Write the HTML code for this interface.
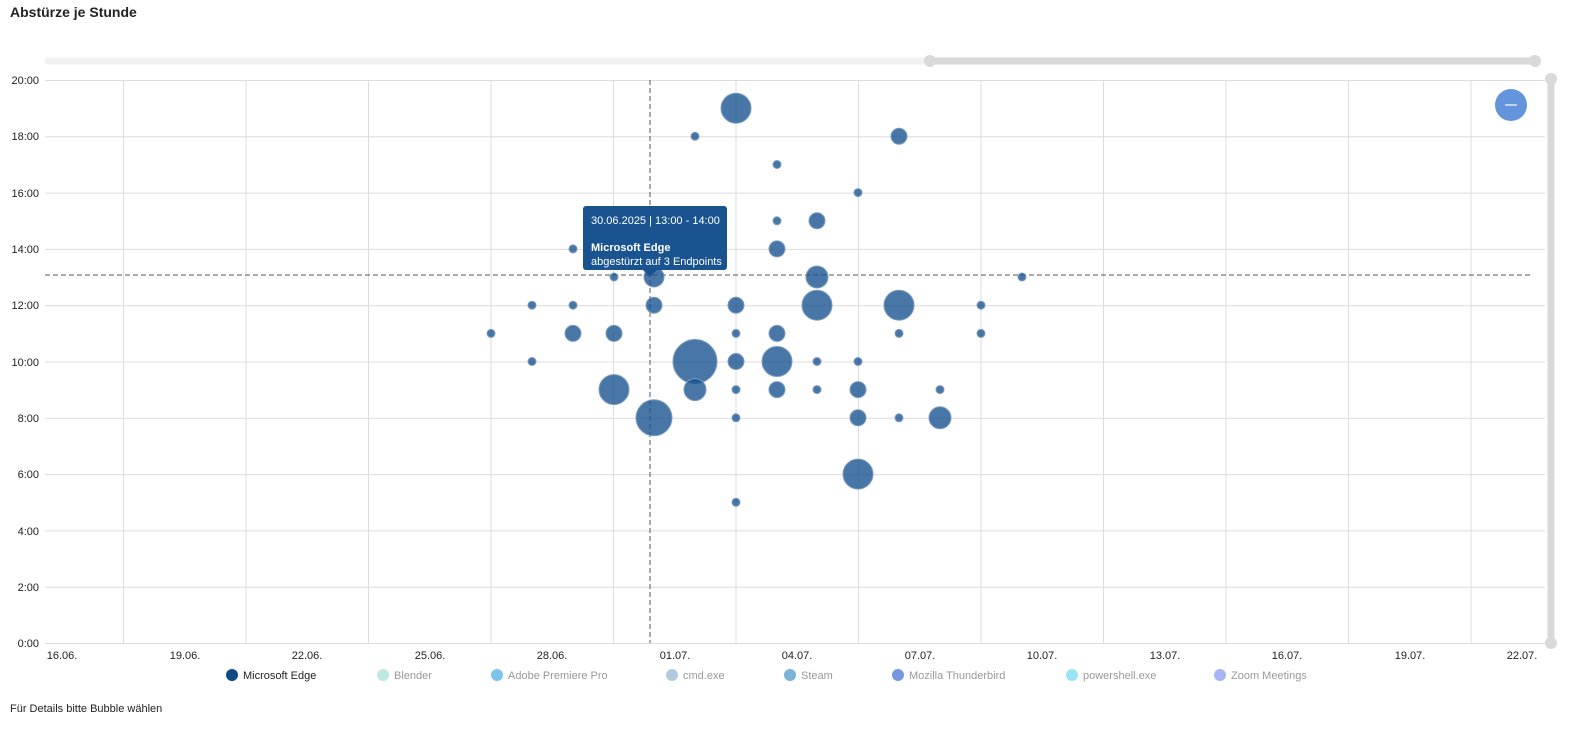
<!DOCTYPE html>
<html><head><meta charset="utf-8"><style>
html,body{margin:0;padding:0;background:#fff;overflow:hidden;width:1584px;height:730px;font-family:"Liberation Sans",sans-serif;}
svg{display:block;}
</style></head><body>
<svg width="1584" height="730" xmlns="http://www.w3.org/2000/svg" font-family="Liberation Sans, sans-serif">
<text x="10" y="17" font-size="14" font-weight="bold" fill="#222">Abstürze je Stunde</text>
<line x1="48" y1="61" x2="930" y2="61" stroke="#f2f2f2" stroke-width="7" stroke-linecap="round"/>
<line x1="930" y1="61" x2="1535" y2="61" stroke="#d9d9d9" stroke-width="7" stroke-linecap="round"/>
<circle cx="930" cy="61" r="6" fill="#d9d9d9"/><circle cx="1535" cy="61" r="6" fill="#d9d9d9"/>
<line x1="1551" y1="80" x2="1551" y2="642" stroke="#d9d9d9" stroke-width="7" stroke-linecap="round"/>
<circle cx="1551" cy="79" r="6" fill="#d9d9d9"/><circle cx="1551" cy="643" r="6" fill="#d9d9d9"/>
<g stroke="#dcdcdc" stroke-width="1">
<line x1="45" y1="80.5" x2="1545" y2="80.5"/><line x1="45" y1="136.8" x2="1545" y2="136.8"/><line x1="45" y1="193.1" x2="1545" y2="193.1"/><line x1="45" y1="249.4" x2="1545" y2="249.4"/><line x1="45" y1="305.7" x2="1545" y2="305.7"/><line x1="45" y1="362" x2="1545" y2="362"/><line x1="45" y1="418.3" x2="1545" y2="418.3"/><line x1="45" y1="474.6" x2="1545" y2="474.6"/><line x1="45" y1="530.9" x2="1545" y2="530.9"/><line x1="45" y1="587.2" x2="1545" y2="587.2"/><line x1="45" y1="643.5" x2="1545" y2="643.5"/>
<line x1="123.5" y1="80" x2="123.5" y2="643"/><line x1="246" y1="80" x2="246" y2="643"/><line x1="368.5" y1="80" x2="368.5" y2="643"/><line x1="491" y1="80" x2="491" y2="643"/><line x1="613.5" y1="80" x2="613.5" y2="643"/><line x1="736" y1="80" x2="736" y2="643"/><line x1="858.5" y1="80" x2="858.5" y2="643"/><line x1="981" y1="80" x2="981" y2="643"/><line x1="1103.5" y1="80" x2="1103.5" y2="643"/><line x1="1226" y1="80" x2="1226" y2="643"/><line x1="1348.5" y1="80" x2="1348.5" y2="643"/><line x1="1471" y1="80" x2="1471" y2="643"/>
</g>
<g font-size="11" fill="#222" text-anchor="end">
<text x="39" y="84">20:00</text><text x="39" y="140">18:00</text><text x="39" y="197">16:00</text><text x="39" y="253">14:00</text><text x="39" y="309">12:00</text><text x="39" y="366">10:00</text><text x="39" y="422">8:00</text><text x="39" y="478">6:00</text><text x="39" y="535">4:00</text><text x="39" y="591">2:00</text><text x="39" y="647">0:00</text>
</g>
<g font-size="11" fill="#222" text-anchor="middle">
<text x="62" y="659">16.06.</text><text x="185" y="659">19.06.</text><text x="307" y="659">22.06.</text><text x="430" y="659">25.06.</text><text x="552" y="659">28.06.</text><text x="675" y="659">01.07.</text><text x="797" y="659">04.07.</text><text x="920" y="659">07.07.</text><text x="1042" y="659">10.07.</text><text x="1165" y="659">13.07.</text><text x="1287" y="659">16.07.</text><text x="1410" y="659">19.07.</text><text x="1522" y="659">22.07.</text>
</g>
<g stroke="#555" stroke-width="1" stroke-dasharray="5,3">
<line x1="650" y1="80" x2="650" y2="643"/><line x1="45" y1="275" x2="1533" y2="275"/>
</g>
<g fill="rgb(26,84,144)" fill-opacity="0.8" stroke="#7c9cc0" stroke-width="1">
<circle cx="491" cy="333.4" r="4"/>
<circle cx="532" cy="305.2" r="4"/><circle cx="532" cy="361.5" r="4"/>
<circle cx="573" cy="248.9" r="4"/><circle cx="573" cy="305.2" r="4"/><circle cx="573" cy="333.4" r="8"/>
<circle cx="614" cy="277" r="4"/><circle cx="614" cy="333.4" r="8"/><circle cx="614" cy="389.6" r="15"/>
<circle cx="654" cy="277" r="10"/><circle cx="654" cy="305.2" r="8"/><circle cx="654" cy="417.8" r="18"/>
<circle cx="695" cy="136.3" r="4"/><circle cx="695" cy="361.5" r="22"/><circle cx="695" cy="389.6" r="11"/>
<circle cx="736" cy="108.2" r="15"/><circle cx="736" cy="305.2" r="8"/><circle cx="736" cy="333.4" r="4"/><circle cx="736" cy="361.5" r="8"/><circle cx="736" cy="389.6" r="4"/><circle cx="736" cy="417.8" r="4"/><circle cx="736" cy="502.3" r="4"/>
<circle cx="777" cy="164.5" r="4"/><circle cx="777" cy="220.8" r="4"/><circle cx="777" cy="248.9" r="8"/><circle cx="777" cy="333.4" r="8"/><circle cx="777" cy="361.5" r="15"/><circle cx="777" cy="389.6" r="8"/>
<circle cx="817" cy="220.8" r="8"/><circle cx="817" cy="277" r="11"/><circle cx="817" cy="305.2" r="15"/><circle cx="817" cy="361.5" r="4"/><circle cx="817" cy="389.6" r="4"/>
<circle cx="858" cy="192.6" r="4"/><circle cx="858" cy="361.5" r="4"/><circle cx="858" cy="389.6" r="8"/><circle cx="858" cy="417.8" r="8"/><circle cx="858" cy="474.1" r="15"/>
<circle cx="899" cy="136.3" r="8"/><circle cx="899" cy="305.2" r="15"/><circle cx="899" cy="333.4" r="4"/><circle cx="899" cy="417.8" r="4"/>
<circle cx="940" cy="389.6" r="4"/><circle cx="940" cy="417.8" r="11"/>
<circle cx="981" cy="305.2" r="4"/><circle cx="981" cy="333.4" r="4"/>
<circle cx="1022" cy="277" r="4"/>
</g>
<rect x="583" y="206" width="144" height="64" rx="3" fill="#1a5490"/>
<path d="M643 270 L650 277 L657 270 Z" fill="#1a5490"/>
<text x="591" y="224" font-size="11" fill="#fff">30.06.2025 | 13:00 - 14:00</text>
<text x="591" y="251" font-size="11" font-weight="bold" fill="#fff">Microsoft Edge</text>
<text x="591" y="265" font-size="11" fill="#fff">abgestürzt auf 3 Endpoints</text>
<circle cx="1511" cy="105" r="16" fill="#6494dc"/>
<line x1="1505" y1="105" x2="1517" y2="105" stroke="#fff" stroke-width="1.2"/>
<g font-size="11">
<circle cx="232" cy="675" r="6" fill="#0f4a86"/><text x="243" y="679" fill="#222">Microsoft Edge</text>
<circle cx="383" cy="675" r="6" fill="#bfe8e2"/><text x="394" y="679" fill="#999">Blender</text>
<circle cx="497" cy="675" r="6" fill="#7cc4ea"/><text x="508" y="679" fill="#999">Adobe Premiere Pro</text>
<circle cx="672" cy="675" r="6" fill="#b2cae0"/><text x="683" y="679" fill="#999">cmd.exe</text>
<circle cx="790" cy="675" r="6" fill="#7ab3dc"/><text x="801" y="679" fill="#999">Steam</text>
<circle cx="898" cy="675" r="6" fill="#7896e0"/><text x="909" y="679" fill="#999">Mozilla Thunderbird</text>
<circle cx="1072" cy="675" r="6" fill="#98e4f4"/><text x="1083" y="679" fill="#999">powershell.exe</text>
<circle cx="1220" cy="675" r="6" fill="#a8b4f4"/><text x="1231" y="679" fill="#999">Zoom Meetings</text>
</g>
<text x="10" y="712" font-size="11" fill="#222">Für Details bitte Bubble wählen</text>
</svg>
</body></html>
